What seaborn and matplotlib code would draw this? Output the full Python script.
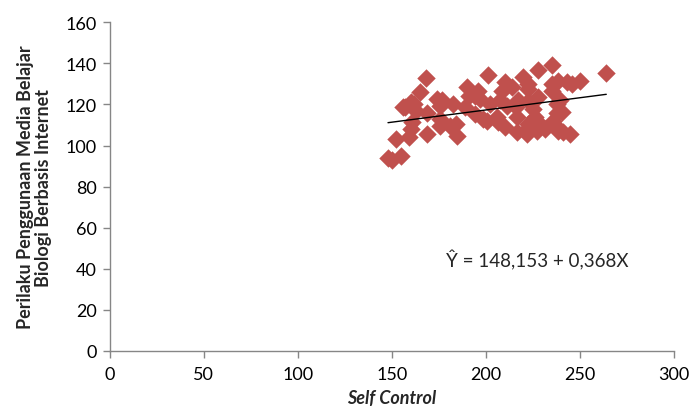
import matplotlib
matplotlib.use("Agg")
import matplotlib.pyplot as plt
import numpy as np
import pandas as pd
import seaborn as sns

# Self Control scores (x) and internet-based biology learning behaviour (y)
self_control = [
    148, 150, 155, 152, 159, 160, 157, 160, 163, 161, 165, 168, 168.5, 168.5, 174,
    175.6, 175.6, 175.6, 176.5, 181, 182.7, 184.5, 184, 156, 162,
    189.8, 189, 191.3, 194, 194.2, 196, 196.8, 198.4, 201, 202, 200.4, 205.7,
    206.6, 207.5, 208.4, 210.3, 211, 210.2, 213.7, 216.4, 216, 217, 216.4,
    219.9, 221.7, 221.7,
    222.4, 222.5, 222.4, 222.4, 225, 226, 227, 227, 227.6, 227.8, 231.4,
    235, 235, 235, 235.8, 237.6, 238, 238.5, 238.5, 238, 239.4, 240.3, 241,
    243, 244.7, 246, 250, 264,
]
perilaku = [
    94, 93, 95, 103, 104, 108, 118.6, 121, 117, 111.5, 126, 133, 116, 105.6, 122.7,
    119.4, 113, 109.7, 122, 109.7, 120.2, 104.5, 110.5, 119, 120,
    128.4, 119, 124, 124, 115.4, 126.7, 122.7, 113, 134.4, 120.2, 112, 113.8,
    111.3, 122, 126.7, 130.8, 119.4, 108.9, 128.4, 113.8, 118.6, 122, 106.5,
    133.2, 108.1, 105.6,
    130, 127.5, 121.9, 110.5, 117.7, 113.8, 112, 107.3, 123.5, 137, 108.1,
    139.2, 130, 126.7, 112, 116, 120.2, 131.6, 107.3, 109, 122, 116.2, 106.5,
    130.8, 105.6, 130, 131.6, 135.2,
]
x_ticks = [0, 50, 100, 150, 200, 250, 300]
y_ticks = [0, 20, 40, 60, 80, 100, 120, 140, 160]
equation = "Ŷ = 148,153 + 0,368X"

df = pd.DataFrame({"Self Control": self_control, "Perilaku": perilaku})

sns.set_style("white")
plt.rcParams["font.family"] = ["Lato", "DejaVu Sans"]

fig = plt.figure(figsize=(6.91, 4.14), dpi=100)
ax = fig.add_axes([0.1585, 0.1498, 0.9754 - 0.1585, 0.9437 - 0.1498])

sns.scatterplot(data=df, x="Self Control", y="Perilaku", marker="D", s=88,
                color="#C0504D", linewidth=0, ax=ax, zorder=3)
sns.regplot(data=df, x="Self Control", y="Perilaku", scatter=False, ci=None,
            truncate=True, color="black", line_kws={"linewidth": 1.0, "zorder": 4},
            ax=ax)

ax.set_xlim(0, 300)
ax.set_ylim(0, 160)
ax.set_xticks(x_ticks)
ax.set_yticks(y_ticks)
ax.tick_params(axis="both", labelsize=13, colors="#868686", labelcolor="black",
               length=5, width=1, direction="out", left=True, bottom=True)
ax.tick_params(axis="x", pad=6)
ax.tick_params(axis="y", pad=4)
for side in ("top", "right"):
    ax.spines[side].set_visible(False)
for side in ("left", "bottom"):
    ax.spines[side].set_color("#868686")
    ax.spines[side].set_linewidth(1)

ax.set_xlabel("Self Control", fontsize=13, fontweight="bold", fontstyle="italic",
              labelpad=5)
ax.set_ylabel("Perilaku Penggunaan Media Belajar\nBiologi Berbasis Internet",
              fontsize=13, fontweight="bold", labelpad=10, linespacing=1.05)

ax.text(179, 44.8, equation, fontsize=13.5, va="center", ha="left")

fig.savefig("out.png", dpi=100)
